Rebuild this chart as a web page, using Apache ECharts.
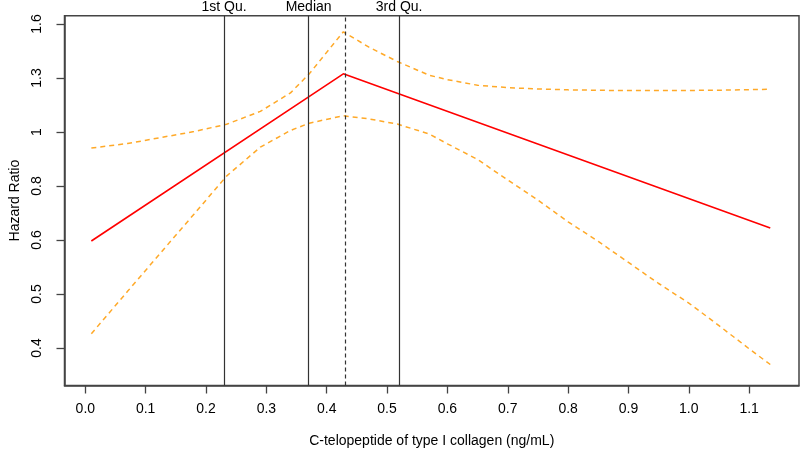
<!DOCTYPE html>
<html>
<head>
<meta charset="utf-8">
<script src="https://cdn.jsdelivr.net/npm/echarts@6/dist/echarts.min.js"></script>
<style>
  html, body { margin: 0; padding: 0; background: #fff; }
  #chart { width: 800px; height: 454px; }
</style>
</head>
<body>
<div id="chart"></div>
<script>
// x grid shared by the confidence band
const xGrid = [0.01, 0.07, 0.13, 0.18, 0.234, 0.29, 0.34, 0.371, 0.4275, 0.47, 0.517, 0.57,
  0.6, 0.65, 0.7, 0.75, 0.8, 0.85, 0.9, 0.95, 1.0, 1.05, 1.1, 1.135];
// upper / lower 95% CI (hazard ratio)
const upperHR = [0.931, 0.950, 0.978, 1.002, 1.035, 1.096, 1.190, 1.295, 1.561, 1.458, 1.368, 1.287,
  1.262, 1.231, 1.218, 1.211, 1.206, 1.204, 1.202, 1.202, 1.203, 1.204, 1.207, 1.209];
const lowerHR = [0.408, 0.4925, 0.594, 0.694, 0.822, 0.935, 1.007, 1.040, 1.075, 1.060, 1.036, 0.991,
  0.949, 0.885, 0.808, 0.739, 0.671, 0.615, 0.560, 0.510, 0.4675, 0.423, 0.3815, 0.3558];
// fitted hazard ratio (linear spline, one knot)
const fitX = [0.01, 0.4275, 1.135];
const fitHR = [0.616, 1.295, 0.653];

// reference lines
const quartileX = [0.2336, 0.3712, 0.5176];
const quartileNames = ['1st Qu.', 'Median', '3rd Qu.'];
const knotX = 0.4275;

// axis ticks (y axis is log hazard ratio)
const xTicks = [0, 0.1, 0.2, 0.3, 0.4, 0.5, 0.6, 0.7, 0.8, 0.9, 1.0, 1.1];
const yTickLogs = [-0.96, -0.72, -0.48, -0.24, 0, 0.24, 0.48];
const yTickLabels = ['0.4', '0.5', '0.6', '0.8', '1', '1.3', '1.6'];

const font = "'Liberation Sans', Arial, sans-serif";
const toPts = (xs, hrs) => xs.map((x, i) => [x, Math.log(hrs[i])]);

const chart = echarts.init(document.getElementById('chart'), null, { renderer: 'canvas' });

const dashLine = {
  type: 'line',
  showSymbol: false,
  symbol: 'none',
  lineStyle: { color: '#FFA928', width: 1.5, type: [5, 4] },
  z: 3
};

const axisLine = { show: true, onZero: false, lineStyle: { color: '#444', width: 1.5 } };

const option = {
  animation: false,
  grid: {
    left: 64.5, right: 1, top: 15.7, bottom: 68.5,
    containLabel: false, outerBoundsMode: 'none',
    show: true, borderColor: '#444', borderWidth: 1.5, backgroundColor: 'transparent'
  },
  xAxis: {
    type: 'value',
    min: -0.0345, max: 1.1826,
    axisLine: axisLine,
    splitLine: { show: false },
    axisTick: { show: true, length: 8, customValues: xTicks, lineStyle: { color: '#444', width: 1.3 } },
    axisLabel: {
      customValues: xTicks, margin: 17,
      formatter: v => v.toFixed(1),
      fontFamily: font, fontSize: 14, color: '#000'
    },
    name: 'C-telopeptide of type I collagen (ng/mL)',
    nameLocation: 'middle', nameGap: 49,
    nameTextStyle: { fontFamily: font, fontSize: 14, color: '#000' }
  },
  yAxis: {
    type: 'value',
    min: -1.1267, max: 0.517,
    axisLine: axisLine,
    splitLine: { show: false },
    axisTick: { show: true, length: 8, customValues: yTickLogs, lineStyle: { color: '#444', width: 1.3 } },
    axisLabel: {
      customValues: yTickLogs, rotate: 90, margin: 20,
      formatter: v => yTickLabels[yTickLogs.findIndex(t => Math.abs(t - v) < 1e-6)] || '',
      fontFamily: font, fontSize: 14, color: '#000'
    },
    name: 'Hazard Ratio',
    nameLocation: 'middle', nameRotate: 90, nameGap: 40,
    nameTextStyle: { fontFamily: font, fontSize: 14, color: '#000' }
  },
  series: [
    Object.assign({}, dashLine, { name: 'upper', data: toPts(xGrid, upperHR) }),
    Object.assign({}, dashLine, { name: 'lower', data: toPts(xGrid, lowerHR) }),
    {
      name: 'fit',
      type: 'line',
      showSymbol: false,
      symbol: 'none',
      data: toPts(fitX, fitHR),
      lineStyle: { color: '#FF0000', width: 1.6 },
      z: 4,
      markLine: {
        silent: true,
        symbol: ['none', 'none'],
        animation: false,
        lineStyle: { color: '#333', width: 1.2, type: 'solid' },
        label: {
          show: true, position: 'end', distance: 2,
          formatter: p => p.name,
          fontFamily: font, fontSize: 14, color: '#000'
        },
        data: quartileX.map((v, i) => ({ xAxis: v, name: quartileNames[i] })).concat([{
          xAxis: knotX, name: '',
          lineStyle: { color: '#333', width: 1.2, type: [4, 3] },
          label: { show: false }
        }])
      }
    }
  ]
};

chart.setOption(option);
</script>
</body>
</html>
